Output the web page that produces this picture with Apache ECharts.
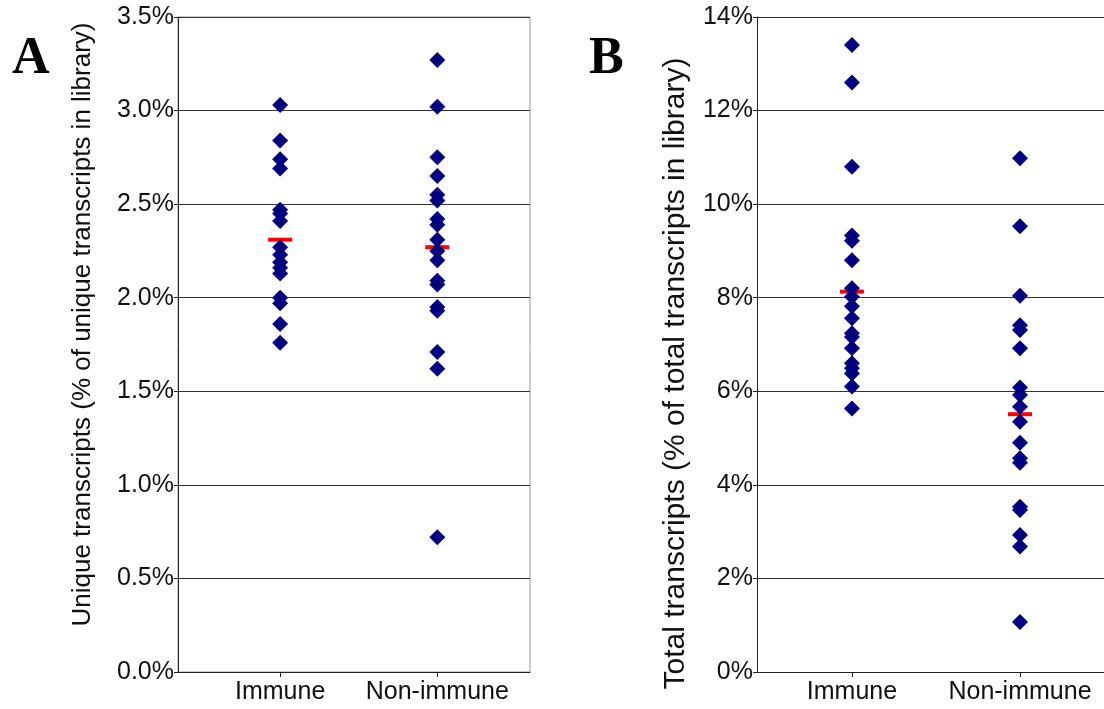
<!DOCTYPE html>
<html>
<head>
<meta charset="utf-8">
<script src="https://cdn.jsdelivr.net/npm/echarts@6/dist/echarts.min.js"></script>
<style>
  html, body { margin: 0; padding: 0; background: #fff; }
  #chart { width: 1104px; height: 709px; }
</style>
</head>
<body>
<div id="chart"></div>
<script>
// ---- Data ----
const categories = ['Immune', 'Non-immune'];
const categoryPositions = [1, 2];

// Panel A: unique transcripts (% of unique transcripts in library)
const uniqueImmune = [3.03, 2.84, 2.74, 2.69, 2.47, 2.45, 2.41, 2.27, 2.23, 2.19, 2.16, 2.13, 2.00, 1.97, 1.86, 1.76];
const uniqueNonImmune = [3.27, 3.02, 2.75, 2.65, 2.55, 2.52, 2.42, 2.39, 2.31, 2.25, 2.20, 2.09, 2.07, 1.95, 1.93, 1.71, 1.62, 0.72];
const uniqueMedians = [2.31, 2.27];

// Panel B: total transcripts (% of total transcripts in library)
const totalImmune = [13.40, 12.60, 10.80, 9.33, 9.22, 8.80, 8.20, 8.02, 7.82, 7.56, 7.24, 7.16, 6.92, 6.60, 6.49, 6.38, 6.10, 5.63];
const totalNonImmune = [10.98, 9.53, 8.04, 7.41, 7.31, 6.92, 6.08, 5.92, 5.67, 5.35, 4.90, 4.57, 4.47, 3.53, 3.46, 2.93, 2.68, 1.07];
const totalMedians = [8.13, 5.51];

const uniqueTicks = { min: 0, max: 3.5, interval: 0.5 };
const totalTicks = { min: 0, max: 14, interval: 2 };

const panelLabels = ['A', 'B'];
const yTitles = [
  'Unique transcripts (% of unique transcripts in library)',
  'Total transcripts (% of total transcripts in library)'
];

// ---- Styling ----
const FONT = 'Liberation Sans, Arial, sans-serif';
const SERIF = 'Liberation Serif, Times New Roman, serif';
const NAVY = '#000080';

function pts(xv, arr) { return arr.map(v => [xv, v]); }

function xAxisFor(gridIndex, min, max) {
  return {
    type: 'value', gridIndex, min, max,
    axisLine: { show: true, lineStyle: { color: '#222', width: 1 } },
    axisTick: { show: true, customValues: categoryPositions, length: 5, lineStyle: { color: '#222' } },
    axisLabel: {
      customValues: categoryPositions,
      formatter: v => categories[categoryPositions.indexOf(Math.round(v))] || '',
      fontFamily: FONT, fontSize: 25, color: '#111', margin: 8
    },
    splitLine: { show: false }
  };
}

function yAxisFor(gridIndex, t, fmt, title, titleSize, gap, pad) {
  return {
    type: 'value', gridIndex, min: t.min, max: t.max, interval: t.interval,
    axisLine: { show: true, lineStyle: { color: '#222', width: 1 } },
    axisTick: { show: true, length: 4, lineStyle: { color: '#222' } },
    axisLabel: { formatter: fmt, fontFamily: FONT, fontSize: 25, color: '#111', margin: 4 },
    splitLine: { show: true, lineStyle: { color: '#333', width: 1 } },
    name: title, nameLocation: 'middle', nameGap: gap,
    nameTextStyle: { fontFamily: FONT, fontSize: titleSize, color: '#111', padding: pad }
  };
}

function dots(idx, data) {
  return {
    type: 'scatter', xAxisIndex: idx, yAxisIndex: idx, data,
    symbol: 'diamond', symbolSize: 16, z: 3,
    itemStyle: { color: NAVY, opacity: 1 }
  };
}
function medians(idx, vals) {
  return {
    type: 'scatter', xAxisIndex: idx, yAxisIndex: idx,
    data: vals.map((v, i) => [categoryPositions[i], v]),
    symbol: 'rect', symbolSize: [24, 4], z: 2,
    itemStyle: { color: '#ff0000', opacity: 1 }
  };
}

const chart = echarts.init(document.getElementById('chart'), null, { renderer: 'canvas' });
chart.setOption({
  animation: false,
  backgroundColor: '#fff',
  title: [
    { text: panelLabels[0], left: 7, top: 29, textStyle: { fontFamily: SERIF, fontWeight: 'bold', fontSize: 52, color: '#000' } },
    { text: panelLabels[1], left: 584, top: 29, textStyle: { fontFamily: SERIF, fontWeight: 'bold', fontSize: 52, color: '#000' } }
  ],
  grid: [
    { left: 178, right: 574, top: 17, bottom: 37, show: true, borderColor: '#999', borderWidth: 1, backgroundColor: 'transparent' },
    { left: 757, right: 0, top: 17, bottom: 37 }
  ],
  xAxis: [
    xAxisFor(0, 0.35, 2.59),
    xAxisFor(1, 0.435, 2.5)
  ],
  yAxis: [
    yAxisFor(0, uniqueTicks, v => v.toFixed(1) + '%', yTitles[0], 26, 82, [0, 0, 0, 40]),
    yAxisFor(1, totalTicks, v => v + '%', yTitles[1], 30, 66, [0, 58, 0, 0])
  ],
  series: [
    medians(0, uniqueMedians),
    dots(0, pts(1, uniqueImmune)),
    dots(0, pts(2, uniqueNonImmune)),
    medians(1, totalMedians),
    dots(1, pts(1, totalImmune)),
    dots(1, pts(2, totalNonImmune))
  ]
});
</script>
</body>
</html>
